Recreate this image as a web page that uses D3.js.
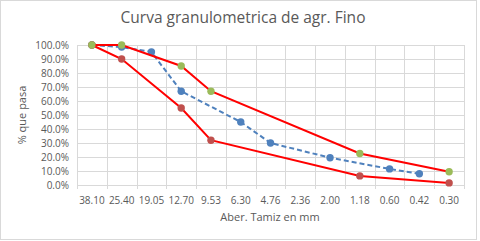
<!DOCTYPE html>
<html>
<head>
<meta charset="utf-8">
<script src="https://cdn.jsdelivr.net/npm/d3@7"></script>
<style>
  body { margin: 0; background: #fff; }
  text { font-family: "Open Sans", "Noto Sans", sans-serif; fill: #595959; }
</style>
</head>
<body>
<div id="chart"></div>
<script>
// Sieve openings (mm) shown as categories
const sieves = ["38.10","25.40","19.05","12.70","9.53","6.30","4.76","2.36","2.00","1.18","0.60","0.42","0.30"]
// Sample curve (null where no value)
const muestra = [100, 98.5, 95, 67, null, 45, 30, null, 19.5, null, 11.5, 8, null]
// Upper limit
const limSup = [100, 100, null, 85, 67, null, null, null, null, 22.5, null, null, 9.5]
// Lower limit
const limInf = [100, 90, null, 55, 32, null, null, null, null, 6.5, null, null, 1.5]
const yTicks = [0, 10, 20, 30, 40, 50, 60, 70, 80, 90, 100]

const W = 480, H = 241
const margin = { top: 45, right: 16, bottom: 56, left: 77 }

const svg = d3.select("#chart").append("svg")
    .attr("width", W)
    .attr("height", H)

// outer frame
svg.append("rect")
    .attr("x", 0.5).attr("y", 0.5)
    .attr("width", W - 4).attr("height", H - 2)
    .attr("fill", "#fff").attr("stroke", "#d9d9d9")

const x = d3.scaleBand()
    .domain(sieves)
    .range([margin.left, W - margin.right])

const y = d3.scaleLinear()
    .domain([0, 100])
    .range([H - margin.bottom, margin.top])

const g = svg.append("g")

// horizontal gridlines
g.selectAll(".hgrid")
  .data(yTicks)
  .join("line")
    .attr("x1", margin.left).attr("x2", W - margin.right)
    .attr("y1", d => Math.round(y(d)) + 0.5).attr("y2", d => Math.round(y(d)) + 0.5)
    .attr("stroke", "#d9d9d9")

// vertical gridlines at band edges
const edges = sieves.map(s => x(s)).concat([x(sieves[sieves.length - 1]) + x.bandwidth()])
g.selectAll(".vgrid")
  .data(edges)
  .join("line")
    .attr("x1", d => Math.round(d) + 0.5).attr("x2", d => Math.round(d) + 0.5)
    .attr("y1", margin.top).attr("y2", H - margin.bottom + 4)
    .attr("stroke", "#d9d9d9")

// y labels
g.selectAll(".ylab")
  .data(yTicks)
  .join("text")
    .attr("x", margin.left - 8)
    .attr("y", d => y(d))
    .attr("dy", "0.35em")
    .attr("text-anchor", "end")
    .style("font-size", "10px")
    .text(d => d.toFixed(1) + "%")

// x labels
g.selectAll(".xlab")
  .data(sieves)
  .join("text")
    .attr("x", d => x(d) + x.bandwidth() / 2)
    .attr("y", 200)
    .attr("dy", "0.35em")
    .attr("text-anchor", "middle")
    .style("font-size", "10px")
    .text(d => d)

// titles
svg.append("text")
    .attr("x", 243).attr("y", 23)
    .attr("text-anchor", "middle")
    .style("font-size", "15.5px")
    .text("Curva granulometrica de agr. Fino")

svg.append("text")
    .attr("x", 270).attr("y", 217)
    .attr("dy", "0.35em")
    .attr("text-anchor", "middle")
    .style("font-size", "11px")
    .text("Aber. Tamiz en mm")

svg.append("text")
    .attr("transform", "translate(22," + ((margin.top + H - margin.bottom) / 2) + ") rotate(-90)")
    .attr("dy", "0.35em")
    .attr("text-anchor", "middle")
    .style("font-size", "11px")
    .text("% que pasa")

const cx = i => x(sieves[i]) + x.bandwidth() / 2

const line = d3.line()
    .x(d => cx(d.i))
    .y(d => y(d.v))

function drawSeries(values, lineColor, markColor, dashed) {
  const pts = values.map((v, i) => ({ i, v })).filter(d => d.v !== null)
  g.append("path")
    .datum(pts)
    .attr("d", line)
    .attr("fill", "none")
    .attr("stroke", lineColor)
    .attr("stroke-width", 2)
    .attr("stroke-dasharray", dashed ? "5,3" : null)
  g.selectAll(null)
    .data(pts)
    .join("circle")
      .attr("cx", d => cx(d.i))
      .attr("cy", d => y(d.v))
      .attr("r", 3.7)
      .attr("fill", markColor)
}

drawSeries(muestra, "#4f81bd", "#4f81bd", true)
drawSeries(limInf, "#ff0000", "#c0504d", false)
drawSeries(limSup, "#ff0000", "#9bbb59", false)
</script>
</body>
</html>
